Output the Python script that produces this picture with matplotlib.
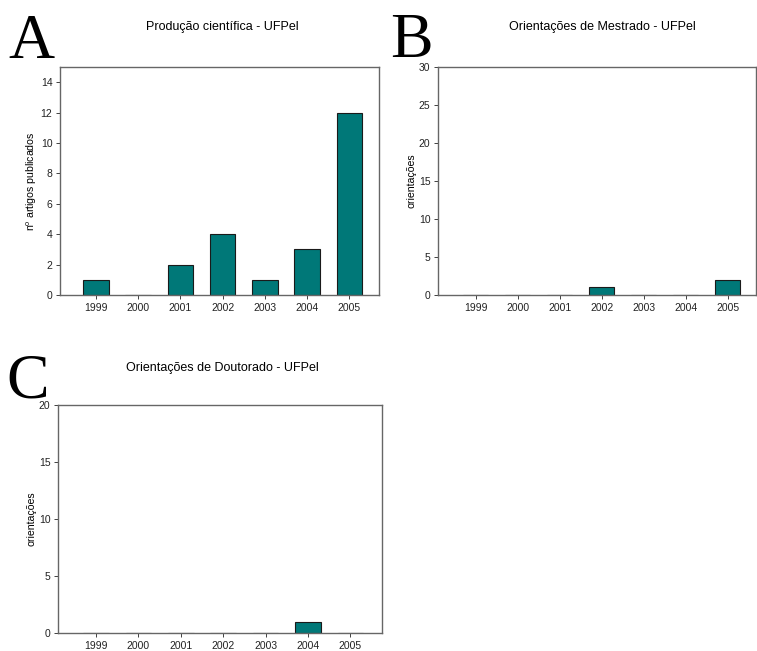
import matplotlib
matplotlib.use("Agg")
import matplotlib.pyplot as plt

plt.rcParams['font.family'] = ['Liberation Sans', 'DejaVu Sans']

years = ['1999', '2000', '2001', '2002', '2003', '2004', '2005']
artigos = [1, 0, 2, 4, 1, 3, 12]
mestrado = [0, 0, 0, 1, 0, 0, 2]
doutorado = [0, 0, 0, 0, 0, 1, 0]

bar_color = '#007878'
W, H = 757, 651
fig = plt.figure(figsize=(W/100, H/100), dpi=100)

def px_axes(l, t, r, b):
    return fig.add_axes([l/W, 1 - b/H, (r - l)/W, (b - t)/H])

def style(ax, data, ymax, yticks, ylabel, xlim):
    x = range(len(years))
    ax.bar(x, data, width=0.6, color=bar_color, edgecolor='#1a1a1a', linewidth=0.8)
    ax.set_xlim(*xlim)
    ax.set_ylim(0, ymax)
    ax.set_yticks(yticks)
    ax.set_xticks(list(x))
    ax.set_xticklabels(years)
    ax.tick_params(labelsize=7.5, length=3, width=0.6, colors='#222222', pad=2.5)
    for s in ax.spines.values():
        s.set_color('#666666')
        s.set_linewidth(1.0)
    ax.set_ylabel(ylabel, fontsize=7.6, labelpad=1.5)

axA = px_axes(60, 67, 379, 295)
style(axA, artigos, 15, range(0, 15, 2), 'n$^{\\mathregular{o}}$ artigos publicados', (-0.85, 6.7))
axB = px_axes(438, 67, 756, 295)
style(axB, mestrado, 30, range(0, 31, 5), 'orientações', (-0.9, 6.67))
axC = px_axes(58, 405, 382, 633)
style(axC, doutorado, 20, range(0, 21, 5), 'orientações', (-0.9, 6.75))

fig.text(222/W, 1 - 27/H, 'Produção científica - UFPel', ha='center', va='center', fontsize=9)
fig.text(602/W, 1 - 27/H, 'Orientações de Mestrado - UFPel', ha='center', va='center', fontsize=9)
fig.text(222/W, 1 - 368/H, 'Orientações de Doutorado - UFPel', ha='center', va='center', fontsize=9)

for lx, ly, lt in [(8, 58, 'A'), (390, 57, 'B'), (6, 397, 'C')]:
    fig.text(lx/W, 1 - ly/H, lt, ha='left', va='baseline', fontsize=46,
             family=['Liberation Serif', 'DejaVu Serif'])

fig.savefig('out.png', dpi=100)
